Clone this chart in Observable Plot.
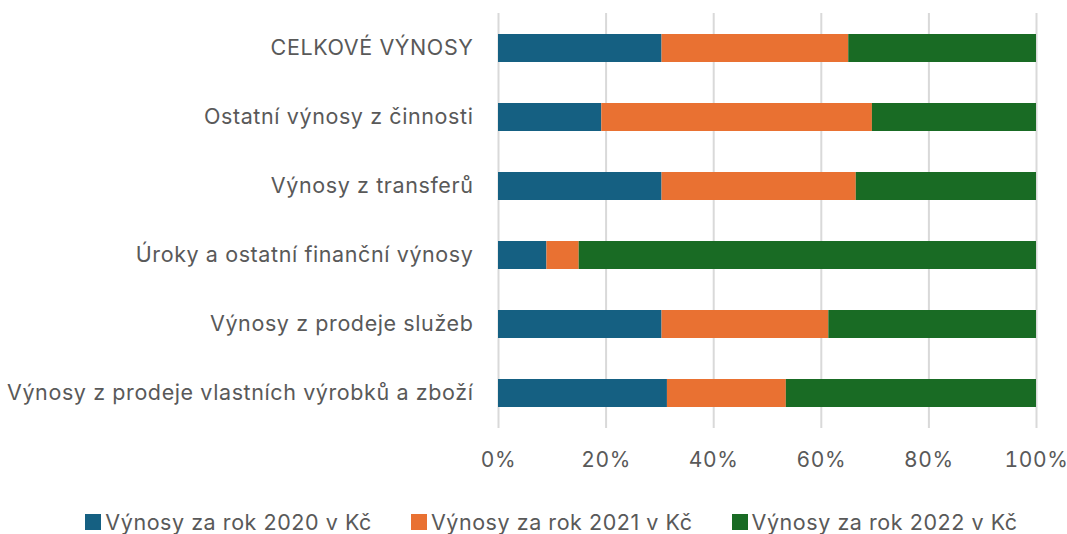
<!DOCTYPE html>
<html>
<head>
<meta charset="utf-8">
<script src="https://cdn.jsdelivr.net/npm/d3@7"></script>
<script src="https://cdn.jsdelivr.net/npm/@observablehq/plot@0.6"></script>
<style>
  html, body { margin: 0; padding: 0; background: #fff; }
  body { width: 1067px; height: 534px; overflow: hidden; font-family: Inter, Roboto, sans-serif; }
  #chart svg text { letter-spacing: 0.6px; }
  #chart svg g[aria-label="x-axis tick label"] text { letter-spacing: 0px; }
  #legend { display: flex; justify-content: center; align-items: center; gap: 39px; height: 44px; padding-top: 10px; margin-left: 36px; color: #595959; font-size: 21.5px; letter-spacing: 0.55px; }
  #legend .item { display: flex; align-items: center; gap: 4px; }
  #legend .sw { width: 16px; height: 16px; display: inline-block; }
</style>
</head>
<body>
<div id="chart"></div>
<div id="legend"></div>
<script>
const categories = [
  "CELKOVÉ VÝNOSY",
  "Ostatní výnosy z činnosti",
  "Výnosy z transferů",
  "Úroky a ostatní finanční výnosy",
  "Výnosy z prodeje služeb",
  "Výnosy z prodeje vlastních výrobků a zboží"
];
const seriesNames = ["Výnosy za rok 2020 v Kč", "Výnosy za rok 2021 v Kč", "Výnosy za rok 2022 v Kč"];
const share2020 = [30.4, 19.2, 30.4, 9.0, 30.4, 31.4];
const share2021 = [34.7, 50.3, 36.1, 6.0, 31.0, 22.1];
const share2022 = [34.9, 30.5, 33.5, 85.0, 38.6, 46.5];
const colors = ["#156082", "#E97132", "#196B24"];
const xTicks = [0, 20, 40, 60, 80, 100];

const seriesValues = [share2020, share2021, share2022];
const rows = [];
seriesNames.forEach((s, si) => {
  categories.forEach((c, ci) => rows.push({category: c, series: s, value: seriesValues[si][ci]}));
});

const chart = Plot.plot({
  width: 1067,
  height: 490,
  marginTop: 13,
  marginBottom: 62,
  marginLeft: 498,
  marginRight: 31,
  style: {fontFamily: "Inter, Roboto, sans-serif", fontSize: "21.5px", color: "#595959", background: "#fff"},
  x: {domain: [0, 100], ticks: xTicks, tickFormat: d => d + "%", tickSize: 0, tickPadding: 24, label: null},
  y: {domain: categories, paddingInner: 0.59, paddingOuter: 0.295, tickSize: 0, tickPadding: 25, label: null},
  color: {domain: seriesNames, range: colors},
  marks: [
    Plot.ruleX(xTicks, {stroke: "#d9d9d9", strokeWidth: 2}),
    Plot.barX(rows, Plot.stackX({x: "value", y: "category", fill: "series", order: seriesNames})),
    Plot.axisY({tickSize: 0, tickPadding: 25, fill: "#595959", fontSize: 21.5}),
    Plot.axisX({ticks: xTicks, tickFormat: d => d + "%", tickSize: 0, tickPadding: 24, fill: "#595959", fontSize: 21, ariaLabel: "x-axis tick label"})
  ]
});
document.getElementById("chart").appendChild(chart);

const legend = document.getElementById("legend");
seriesNames.forEach((s, i) => {
  const item = document.createElement("div");
  item.className = "item";
  const sw = document.createElement("span");
  sw.className = "sw";
  sw.style.background = colors[i];
  const t = document.createElement("span");
  t.textContent = s;
  item.appendChild(sw);
  item.appendChild(t);
  legend.appendChild(item);
});
</script>
</body>
</html>
